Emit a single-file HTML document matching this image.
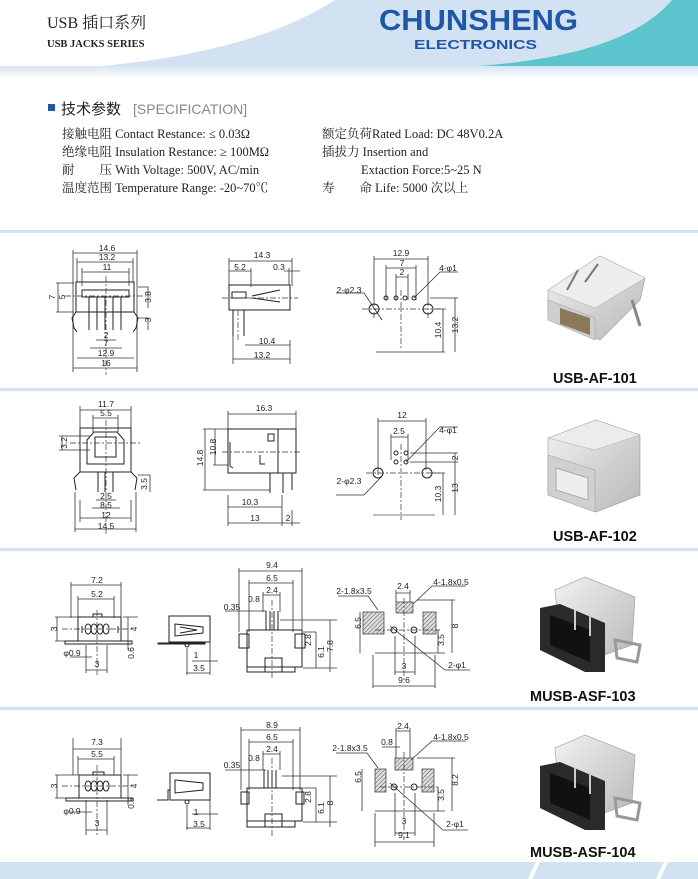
<!DOCTYPE html>
<html><head><meta charset="utf-8">
<style>
html,body{margin:0;padding:0;background:#fff;}
svg{display:block;}
.d{font-family:"Liberation Sans",sans-serif;font-size:8.5px;fill:#222;text-anchor:middle;}
.l{stroke:#333;stroke-width:0.8;fill:none;}
.b{stroke:#222;stroke-width:1;fill:none;}
.c{stroke:#333;stroke-width:0.7;stroke-dasharray:6 2 2 2;fill:none;}
.s{font-family:"Liberation Serif","Noto Serif CJK SC",serif;font-size:12.5px;fill:#222;}
.p{font-family:"Liberation Sans",sans-serif;font-weight:bold;font-size:14.5px;fill:#111;}
</style></head><body>
<svg width="698" height="879" viewBox="0 0 698 879" xmlns="http://www.w3.org/2000/svg">
<defs>
<linearGradient id="hs" x1="0" y1="0" x2="0" y2="1"><stop offset="0" stop-color="#d6e4f2"/><stop offset="1" stop-color="#fff"/></linearGradient>
<linearGradient id="mt" x1="0" y1="0" x2="1" y2="1"><stop offset="0" stop-color="#f2f2f2"/><stop offset="1" stop-color="#b8b8b8"/></linearGradient>
<pattern id="h" width="3" height="3" patternUnits="userSpaceOnUse" patternTransform="rotate(45)"><rect width="3" height="3" fill="#ddd"/><line x1="0" y1="0" x2="0" y2="3" stroke="#555" stroke-width="1"/></pattern>
</defs>
<!-- header -->
<path d="M80 68 Q250 55 335 0 L698 0 L698 68 Z" fill="#d3e2f2"/>
<path d="M440 68 Q620 62 672 0 L698 0 L698 68 Z" fill="#5bc4cc"/>
<rect x="0" y="66" width="698" height="12" fill="url(#hs)"/>
<text x="47" y="28" font-family="Liberation Serif,'Noto Serif CJK SC',serif" font-size="16" fill="#222">USB 插口系列</text>
<text x="47" y="47" font-family="Liberation Serif,serif" font-weight="bold" font-size="10.5" fill="#222">USB JACKS SERIES</text>
<text x="379" y="30" font-family="Liberation Sans,sans-serif" font-weight="bold" font-size="29" fill="#1f57a8" textLength="199" lengthAdjust="spacingAndGlyphs">CHUNSHENG</text>
<text x="414" y="49" font-family="Liberation Sans,sans-serif" font-weight="bold" font-size="13" fill="#1f57a8" textLength="123" lengthAdjust="spacingAndGlyphs">ELECTRONICS</text>
<!-- spec -->
<rect x="48" y="104" width="7" height="7" fill="#1f57a8"/>
<text x="61" y="114" font-family="'Noto Sans CJK SC',sans-serif" font-size="15" fill="#222">技术参数</text>
<text x="133" y="114" font-family="Liberation Sans,sans-serif" font-size="14" fill="#888">[SPECIFICATION]</text>
<text class="s" x="62" y="138">接触电阻 Contact Restance: ≤ 0.03Ω</text>
<text class="s" x="62" y="156">绝缘电阻 Insulation Restance: ≥ 100MΩ</text>
<text class="s" x="62" y="174">耐　　压 With Voltage: 500V, AC/min</text>
<text class="s" x="62" y="192">温度范围 Temperature Range: -20~70℃</text>
<text class="s" x="322" y="138">额定负荷Rated Load: DC 48V0.2A</text>
<text class="s" x="322" y="156">插拔力 Insertion and</text>
<text class="s" x="361" y="174">Extaction Force:5~25 N</text>
<text class="s" x="322" y="192">寿　　命 Life: 5000 次以上</text>
<!-- separators -->
<rect x="0" y="230" width="698" height="3" fill="#d3e2f2"/>
<rect x="0" y="388" width="698" height="3" fill="#d3e2f2"/>
<rect x="0" y="548" width="698" height="3" fill="#d3e2f2"/>
<rect x="0" y="707" width="698" height="3" fill="#d3e2f2"/>
<path d="M0 862 L698 862 L698 879 L0 879 Z" fill="#d3e2f2"/>
<path d="M528 879 L536 862 L540 862 L532 879Z M656 879 L664 862 L668 862 L660 879Z" fill="#fff"/>

<!-- ROW 1 -->
<g>
<path class="l" d="M73 250V372M137 250V372M73 253H137M77 262H133M77 258V282M133 258V282M82 272H129M82 268V286M129 268V286"/>
<rect class="b" x="76" y="282" width="58" height="30"/>
<rect class="b" x="82" y="290" width="47" height="7"/>
<path class="b" d="M89 297V330M97 297V330M105 297V330M113 297V330M121 297V330M76 312L72 318L74 328L77 332M134 312L138 318L136 328L133 332"/>
<path class="c" d="M106 276V375M65 296H146"/>
<path class="l" d="M138 287H148V308M138 318H148V330M58 283V312M56 283H74M56 312H74M96 340H116M90 348H122M77 358H134M73 368H137"/>
<text class="d" x="107" y="251">14.6</text><text class="d" x="107" y="260">13.2</text><text class="d" x="107" y="270">11</text>
<text class="d" x="106" y="338">2</text><text class="d" x="106" y="346">7</text><text class="d" x="106" y="356">12.9</text><text class="d" x="106" y="366">16</text>
<text class="d" transform="translate(151,297) rotate(-90)">3.8</text><text class="d" transform="translate(151,320) rotate(-90)">3</text>
<text class="d" transform="translate(55,297) rotate(-90)">7</text><text class="d" transform="translate(65,297) rotate(-90)">5</text>
</g>
<g>
<path class="l" d="M229 258V286M292 258V286M229 261H292M229 271H251M251 268V287M284 271H300M289 268V285M245 345H290M290 340V364M233 359H290M233 325V364"/>
<rect class="b" x="229" y="285" width="61" height="25"/>
<rect class="b" x="232" y="292" width="14" height="6"/>
<path class="b" d="M252 296L280 290M252 298L280 302M233 310V336M244 310V336"/>
<path class="c" d="M222 298H298M238 310V340"/>
<text class="d" x="262" y="258">14.3</text><text class="d" x="240" y="270">5.2</text><text class="d" x="279" y="270">0.3</text>
<text class="d" x="267" y="344">10.4</text><text class="d" x="262" y="358">13.2</text>
</g>
<g>
<path class="l" d="M374 256V300M428 256V300M374 259H428M386 268H416M386 265V300M416 265V300M396 277H408M396 274V300M408 274V300M376 352H445M430 298H458M436 309H446M443 309V352M455 298V352M414 298L440 272H458M382 320L364 293H336"/>
<circle class="b" cx="386" cy="298" r="2"/><circle class="b" cx="396" cy="298" r="2"/><circle class="b" cx="405" cy="298" r="2"/><circle class="b" cx="414" cy="298" r="2"/>
<circle class="b" cx="374" cy="309" r="5"/><circle class="b" cx="428" cy="309" r="5"/>
<path class="c" d="M362 309H440M401 290V350M374 300V320M428 300V320"/>
<text class="d" x="401" y="256">12.9</text><text class="d" x="402" y="266">7</text><text class="d" x="402" y="275">2</text>
<text class="d" x="448" y="271">4-φ1</text><text class="d" x="349" y="293">2-φ2.3</text>
<text class="d" transform="translate(441,330) rotate(-90)">10.4</text><text class="d" transform="translate(458,325) rotate(-90)">13.2</text>
</g>
<!-- photo 1 -->
<g>
<path d="M548 290 L600 256 L645 278 L640 300 L600 340 L548 318Z" fill="url(#mt)" stroke="#999" stroke-width="0.6"/>
<path d="M548 290 L600 256 L645 278 L595 308Z" fill="#eee" stroke="#aaa" stroke-width="0.5"/>
<path d="M548 300 L595 318 L595 340 L548 320Z" fill="#cfcfcf" stroke="#999" stroke-width="0.5"/>
<path d="M560 308 L590 318 L590 335 L560 324Z" fill="#8a7a5a"/>
<path d="M567 290L578 270M585 282L598 264" stroke="#777" stroke-width="2"/>
<path d="M632 300 L640 326" stroke="#888" stroke-width="3"/>
<text class="p" x="553" y="383">USB-AF-101</text>
</g>

<!-- ROW 2 -->
<g>
<path class="l" d="M80 406V430M131 406V430M80 410H131M93 418H118M93 415V432M118 415V432M62 436V450M59 436H90M59 450H90M138 475H150V492M80 518H131M75 529H136M80 500V522M131 500V522M75 492V532M136 492V532M96 500H116M92 508H120"/>
<rect class="b" x="80" y="428" width="51" height="44"/>
<path class="b" d="M87 440L94 432H117L124 440V464H87Z"/>
<rect class="b" x="95" y="437" width="21" height="20"/>
<path class="b" d="M80 472L74 478L76 490M131 472L137 478L135 490M98 472V492M105 472V492M113 472V492"/>
<path class="c" d="M106 420V535M70 443H140"/>
<text class="d" x="106" y="407">11.7</text><text class="d" x="106" y="416">5.5</text>
<text class="d" transform="translate(67,443) rotate(-90)">3.2</text><text class="d" transform="translate(147,484) rotate(-90)">3.5</text>
<text class="d" x="106" y="499">2.5</text><text class="d" x="106" y="508">8.5</text><text class="d" x="106" y="518">12</text><text class="d" x="106" y="529">14.5</text>
</g>
<g>
<path class="l" d="M228 411V430M296 411V430M228 414H296M203 429H228M203 490H270M205 429V490M213 429H228M213 465H228M215 429V465M228 495V526M282 495V526M228 507H282M228 523H300M292 510V526"/>
<rect class="b" x="228" y="429" width="68" height="44"/>
<rect class="b" x="268" y="434" width="6" height="7"/>
<path class="b" d="M278 429V473M260 455V464H265M230 442V466L233 468M270 473V493M283 473V493M292 473V490"/>
<path class="c" d="M222 452H302"/>
<text class="d" x="264" y="411">16.3</text><text class="d" transform="translate(203,458) rotate(-90)">14.8</text><text class="d" transform="translate(216,447) rotate(-90)">10.8</text>
<text class="d" x="250" y="505">10.3</text><text class="d" x="255" y="521">13</text><text class="d" x="288" y="521">2</text>
</g>
<g>
<path class="l" d="M378 418V475M426 418V470M378 421H426M391 437H408M391 434V460M408 434V460M410 453H458M410 462H458M455 453V462M432 473H445M443 473V515M455 462V515M406 462L440 427H458M382 476L364 495H336"/>
<path d="M373 515H435" stroke="#999" stroke-width="1.2"/>
<circle class="b" cx="396" cy="453" r="2"/><circle class="b" cx="406" cy="453" r="2"/><circle class="b" cx="396" cy="462" r="2"/><circle class="b" cx="406" cy="462" r="2"/>
<circle class="b" cx="378" cy="473" r="5"/><circle class="b" cx="427" cy="473" r="5"/>
<path class="c" d="M366 473H440M401 444V520"/>
<text class="d" x="402" y="418">12</text><text class="d" x="399" y="434">2.5</text><text class="d" x="448" y="433">4-φ1</text><text class="d" x="349" y="484">2-φ2.3</text>
<text class="d" transform="translate(458,458) rotate(-90)">2</text><text class="d" transform="translate(458,488) rotate(-90)">13</text><text class="d" transform="translate(441,494) rotate(-90)">10.3</text>
</g>
<g>
<path d="M548 438 L596 420 L640 435 L640 495 L596 512 L548 495Z" fill="url(#mt)" stroke="#999" stroke-width="0.6"/>
<path d="M548 438 L596 420 L640 435 L595 450Z" fill="#ececec" stroke="#aaa" stroke-width="0.5"/>
<path d="M548 455 L595 470 L595 512 L548 495Z" fill="#d0d0d0" stroke="#999" stroke-width="0.5"/>
<path d="M556 468 L588 478 L588 500 L556 490Z" fill="#eee" stroke="#aaa"/>
<text class="p" x="553" y="541">USB-AF-102</text>
</g>

<!-- ROW 3 -->
<g>
<path class="l" d="M71 582V618M121 582V618M71 585H121M78 599H114M78 596V618M114 596V618M57 617V641M55 617H78M55 641H78M123 617H138M128 617V645M128 645V650M86 670H107M86 645V673M107 645V673M70 657H92"/>
<rect class="b" x="78" y="617" width="43" height="24"/>
<rect class="b" x="93" y="614" width="9" height="3"/>
<rect class="b" x="65" y="641" width="67" height="3"/>
<path class="b" d="M82 626V633M118 626V633M88 624a3 5 0 1 0 0.1 0M94 624a3 5 0 1 0 0.1 0M100 624a3 5 0 1 0 0.1 0M106 624a3 5 0 1 0 0.1 0"/>
<path class="c" d="M97 610V675M62 629H132"/>
<text class="d" x="97" y="583">7.2</text><text class="d" x="97" y="597">5.2</text>
<text class="d" transform="translate(57,629) rotate(-90)">3</text><text class="d" transform="translate(137,629) rotate(-90)">4</text><text class="d" transform="translate(134,653) rotate(-90)">0.6</text>
<text class="d" x="72" y="656">φ0.9</text><text class="d" x="97" y="667">3</text>
</g>
<g>
<rect class="b" x="169" y="616" width="41" height="26"/>
<path class="b" d="M175 624L203 627L203 633L175 636Z M180 627L197 630L180 633 M158 643H205V644H158Z"/>
<circle class="b" cx="187" cy="645" r="2"/>
<path class="l" d="M187 648V675M210 640V675M192 661H218M186 673H210"/>
<text class="d" x="196" y="658">1</text><text class="d" x="199" y="671">3.5</text>
</g>
<g>
<path class="l" d="M239 568V632M302 568V632M239 571H302M249 583H293M249 580V632M293 580V632M263 595H280M263 592V612M280 592V612M225 611H266M280 620H337M303 632H316M316 632V668M303 668H337M330 620V672"/>
<rect class="b" x="247" y="630" width="55" height="37"/>
<rect class="b" x="239" y="634" width="10" height="14"/><rect class="b" x="295" y="634" width="10" height="14"/>
<rect class="b" x="247" y="667" width="48" height="5"/>
<path class="b" d="M266 611V630M270 611V630M274 611V630M278 611V630M265 672V658H282V672"/>
<path class="c" d="M272 600V680"/>
<text class="d" x="272" y="568">9.4</text><text class="d" x="272" y="581">6.5</text><text class="d" x="272" y="593">2.4</text><text class="d" x="254" y="602">0.8</text><text class="d" x="232" y="610">0.35</text>
<text class="d" transform="translate(311,640) rotate(-90)">2.8</text><text class="d" transform="translate(324,652) rotate(-90)">6.1</text><text class="d" transform="translate(333,646) rotate(-90)">7.8</text>
</g>
<g>
<rect x="396" y="602" width="17" height="11" fill="url(#h)" stroke="#333" stroke-width="0.7"/>
<rect x="363" y="612" width="21" height="22" fill="url(#h)" stroke="#333" stroke-width="0.7"/>
<rect x="423" y="612" width="13" height="22" fill="url(#h)" stroke="#333" stroke-width="0.7"/>
<circle class="b" cx="394" cy="630" r="3"/><circle class="b" cx="414" cy="630" r="3"/>
<path class="c" d="M375 630H440M404 598V680"/>
<path class="l" d="M396 590V602M410 590V602M396 593H410M413 604L432 586H466M378 610L368 596H338M360 612V653M375 653H445M417 600H455M452 600V653M438 630V653M395 636V675M415 636V675M395 672H415M373 655V688M435 655V688M373 686H435M390 626L445 670H470"/>
<text class="d" x="403" y="589">2.4</text><text class="d" x="451" y="585">4-1.8x0.5</text><text class="d" x="354" y="594">2-1.8x3.5</text>
<text class="d" transform="translate(361,623) rotate(-90)">6.5</text><text class="d" transform="translate(458,626) rotate(-90)">8</text><text class="d" transform="translate(444,640) rotate(-90)">3.5</text>
<text class="d" x="404" y="669">3</text><text class="d" x="404" y="683">9.6</text><text class="d" x="457" y="668">2-φ1</text>
</g>
<g>
<path d="M555 590 L585 577 L635 597 L632 645 L590 660 L560 645Z" fill="url(#mt)" stroke="#999" stroke-width="0.6"/>
<path d="M615 640 L640 645 L637 662 L617 658Z" fill="none" stroke="#999" stroke-width="3"/>
<path d="M540 608 L560 604 L605 623 L605 672 L585 672 L540 650Z" fill="#2a2a2a"/>
<path d="M550 615 L590 630 L590 662 L550 645Z" fill="#111"/>
<path d="M575 610V630M590 614V636" stroke="#ccc" stroke-width="2"/>
<text class="p" x="530" y="701">MUSB-ASF-103</text>
</g>

<!-- ROW 4 -->
<g>
<path class="l" d="M73 738V775M121 738V775M73 749H121M78 759H114M78 756V775M114 756V775M57 775V798M55 775H78M55 798H78M123 775H138M128 775V805M86 830H107M86 800V835M107 800V835M70 812H92"/>
<rect class="b" x="79" y="775" width="42" height="23"/>
<rect class="b" x="93" y="772" width="11" height="3"/>
<rect class="b" x="66" y="798" width="66" height="3"/>
<path class="b" d="M88 781a3 5 0 1 0 0.1 0M94 781a3 5 0 1 0 0.1 0M100 781a3 5 0 1 0 0.1 0M106 781a3 5 0 1 0 0.1 0"/>
<path class="c" d="M97 765V835M62 786H132"/>
<text class="d" x="97" y="745">7.3</text><text class="d" x="97" y="757">5.5</text>
<text class="d" transform="translate(57,786) rotate(-90)">3</text><text class="d" transform="translate(137,786) rotate(-90)">4</text><text class="d" transform="translate(134,803) rotate(-90)">0.5</text>
<text class="d" x="72" y="814">φ0.9</text><text class="d" x="97" y="826">3</text>
</g>
<g>
<rect class="b" x="170" y="773" width="40" height="27"/>
<path class="b" d="M175 780L203 783L203 790L175 793Z M157 800H168V790H170 M170 800H205"/>
<circle class="b" cx="187" cy="802" r="2"/>
<path class="l" d="M187 805V830M210 795V830M192 814H218M186 828H210"/>
<text class="d" x="196" y="815">1</text><text class="d" x="199" y="827">3.5</text>
</g>
<g>
<path class="l" d="M241 727V790M300 727V790M241 730H300M249 742H293M249 739V790M293 739V790M263 754H280M263 751V770M280 751V770M225 770H266M282 776H337M303 788H316M316 788V822M303 822H337M330 776V827"/>
<rect class="b" x="247" y="788" width="55" height="33"/>
<rect class="b" x="241" y="792" width="8" height="12"/><rect class="b" x="296" y="792" width="8" height="12"/>
<rect class="b" x="247" y="821" width="48" height="6"/>
<path class="b" d="M264 770V788M268 770V788M272 770V788M276 770V788M265 827V814H282V827"/>
<path class="c" d="M272 758V838"/>
<text class="d" x="272" y="728">8.9</text><text class="d" x="272" y="740">6.5</text><text class="d" x="272" y="752">2.4</text><text class="d" x="254" y="761">0.8</text><text class="d" x="232" y="768">0.35</text>
<text class="d" transform="translate(311,797) rotate(-90)">2.8</text><text class="d" transform="translate(324,808) rotate(-90)">6.1</text><text class="d" transform="translate(333,803) rotate(-90)">8</text>
</g>
<g>
<rect x="395" y="758" width="18" height="12" fill="url(#h)" stroke="#333" stroke-width="0.7"/>
<rect x="375" y="769" width="11" height="23" fill="url(#h)" stroke="#333" stroke-width="0.7"/>
<rect x="422" y="769" width="12" height="23" fill="url(#h)" stroke="#333" stroke-width="0.7"/>
<circle class="b" cx="394" cy="787" r="3"/><circle class="b" cx="414" cy="787" r="3"/>
<path class="c" d="M380 787H440M404 752V840"/>
<path class="l" d="M396 728V758M410 728V758M396 731H410M382 747H400M411 760L432 741H466M378 768L367 753H336M362 769V811M375 811H445M417 758H455M452 758V811M438 787V811M395 793V836M415 793V836M395 833H415M375 813V847M434 813V847M375 842H434M390 783L443 830H468"/>
<text class="d" x="403" y="729">2.4</text><text class="d" x="387" y="745">0.8</text><text class="d" x="451" y="740">4-1.8x0.5</text><text class="d" x="350" y="751">2-1.8x3.5</text>
<text class="d" transform="translate(361,777) rotate(-90)">6.5</text><text class="d" transform="translate(458,780) rotate(-90)">8.2</text><text class="d" transform="translate(444,795) rotate(-90)">3.5</text>
<text class="d" x="404" y="824">3</text><text class="d" x="404" y="838">9.1</text><text class="d" x="455" y="827">2-φ1</text>
</g>
<g>
<path d="M555 748 L585 735 L635 755 L632 803 L590 818 L560 803Z" fill="url(#mt)" stroke="#999" stroke-width="0.6"/>
<path d="M615 798 L640 803 L637 820 L617 816Z" fill="none" stroke="#999" stroke-width="3"/>
<path d="M540 766 L560 762 L605 781 L605 830 L585 830 L540 808Z" fill="#2a2a2a"/>
<path d="M550 773 L590 788 L590 820 L550 803Z" fill="#111"/>
<path d="M575 768V788M590 772V794" stroke="#ccc" stroke-width="2"/>
<text class="p" x="530" y="857">MUSB-ASF-104</text>
</g>
</svg>
</body></html>
